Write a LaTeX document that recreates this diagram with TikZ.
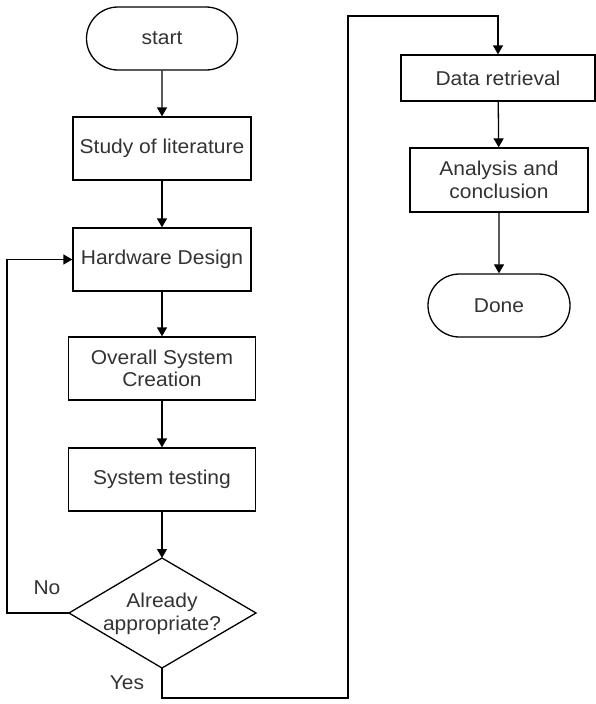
\documentclass[tikz,border=0pt]{standalone}
\usepackage{fontspec}
\setmainfont{Liberation Sans}[FakeStretch=1.05]
\usetikzlibrary{shapes.misc,arrows.meta}
\definecolor{txt}{HTML}{333333}
\begin{document}
\begin{tikzpicture}[x=1pt,y=1pt,
  every node/.style={font=\fontsize{20}{22.5}\selectfont, text=txt, align=center},
  procbox/.style={draw=black, line width=1.3pt, rectangle, minimum height=63pt, inner sep=1pt},
  termbox/.style={draw=black, line width=1.3pt, rounded rectangle, minimum height=63pt, inner sep=1pt},
  flow/.style={draw=black, line width=1.3pt, -{Triangle[length=9pt,width=10pt]}},
  lbl/.style={inner sep=0pt}
]
\useasboundingbox (0,0) rectangle (596,-704);
\fill[white] (0,0) rectangle (596,-704);

\node[termbox, minimum width=153pt] (start) at (162,-38.5) {start};
\node[procbox, minimum width=178pt] (study) at (162,-148.5) {Study of literature};
\node[procbox, minimum width=178pt] (hw) at (162,-259.5) {Hardware Design};
\node[procbox, minimum width=187pt] (overall) at (162,-368.5) {Overall System\\Creation};
\node[procbox, minimum width=187pt] (test) at (162,-479.5) {System testing};

\coordinate (dtop) at (162,-558);
\coordinate (dbot) at (162,-668);
\coordinate (dleft) at (69,-613);
\coordinate (dright) at (256,-613);
\draw[black, line width=1.3pt, line join=miter] (dtop) -- (dright) -- (dbot) -- (dleft) -- cycle;
\node (dec) at (162,-614) {Already\\appropriate?};

\node[procbox, minimum width=194pt, minimum height=46pt] (data) at (498,-78) {Data retrieval};
\node[procbox, minimum width=178pt, minimum height=64pt] (anal) at (499,-180) {Analysis and\\conclusion};
\node[termbox, minimum width=144pt] (done) at (499,-305.5) {Done};

\node[lbl] (no) at (47,-588) {No};
\node[lbl] (yes) at (127,-683) {Yes};

\coordinate (fbl) at (7,-613);
\coordinate (fbt) at (7,-259.5);
\coordinate (yb) at (162,-698);
\coordinate (yr) at (348,-698);
\coordinate (yt) at (348,-16);
\coordinate (ytr) at (498,-16);

\draw[flow] (start) -- (study);
\draw[flow] (study) -- (hw);
\draw[flow] (hw) -- (overall);
\draw[flow] (overall) -- (test);
\draw[flow] (test.south) -- (dtop);
\draw[flow] (dleft) -- (fbl) -- (fbt) -- (hw.west);
\draw[flow] (dbot) -- (yb) -- (yr) -- (yt) -- (ytr) -- (data.north);
\draw[flow] (data) -- (anal);
\draw[flow] (anal) -- (done);
\end{tikzpicture}
\end{document}
